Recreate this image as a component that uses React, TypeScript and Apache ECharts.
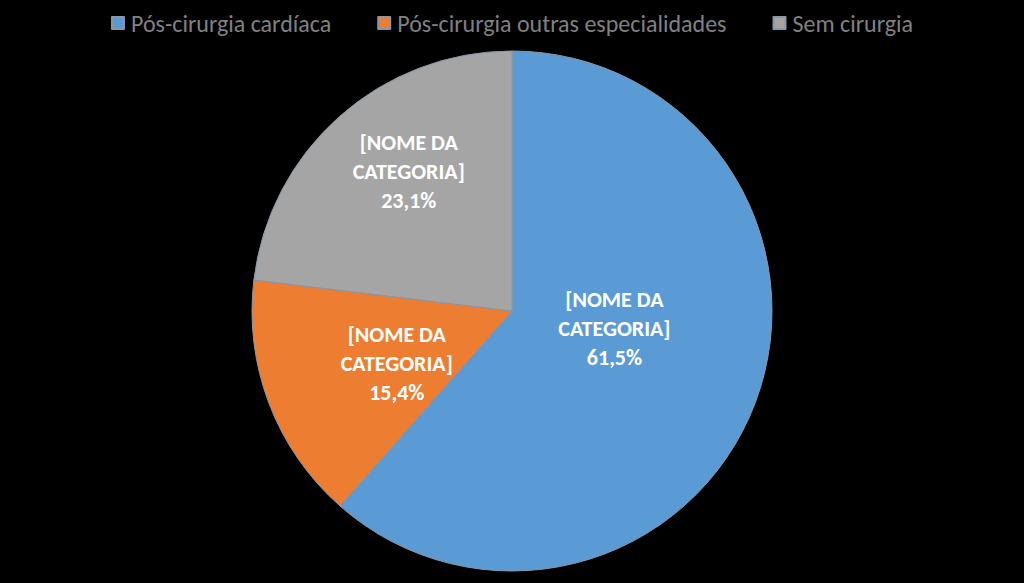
import React, { useEffect, useRef } from "react";
import * as echarts from "echarts";

const categories = ["Pós-cirurgia cardíaca", "Pós-cirurgia outras especialidades", "Sem cirurgia"];
const values = [61.5, 15.4, 23.1];
const colors = ["#5B9BD5", "#ED7D31", "#A5A5A5"];
const labelName = "[NOME DA\nCATEGORIA]";
const labelOffsets = [[-22, -30], [9, 5], [-15, -40]];

const FONT = "Carlito, Calibri, Lato, sans-serif";

export default function App() {
  const ref = useRef<HTMLDivElement>(null);
  useEffect(() => {
    const chart = echarts.init(ref.current!, null, { renderer: "svg" });
    chart.setOption({
      animation: false,
      backgroundColor: "#000000",
      color: colors,
      legend: {
        top: 6,
        left: "center",
        itemWidth: 12,
        itemHeight: 12,
        itemGap: 46,
        icon: "rect",
        textStyle: { color: "#808080", fontSize: 24, fontFamily: FONT, padding: [0, 0, 0, 2] },
        data: categories,
      },
      series: [
        {
          type: "pie",
          center: [512, 311],
          radius: 260,
          startAngle: 90,
          clockwise: true,
          itemStyle: { borderColor: "#8a97a6", borderWidth: 1 },
          label: {
            show: true,
            position: "inside",
            color: "#ffffff",
            fontWeight: "bold",
            fontSize: 22,
            lineHeight: 29,
            fontFamily: FONT,
            formatter: (p: any) => labelName + "\n" + p.value.toFixed(1).replace(".", ",") + "%",
          },
          labelLine: { show: false },
          emphasis: { disabled: true },
          data: categories.map((c, i) => ({
            name: c,
            value: values[i],
            label: { offset: labelOffsets[i] },
          })),
        },
      ],
    });
    return () => chart.dispose();
  }, []);
  return <div ref={ref} style={{ position: "fixed", left: 0, top: 0, width: 1024, height: 583 }} />;
}
